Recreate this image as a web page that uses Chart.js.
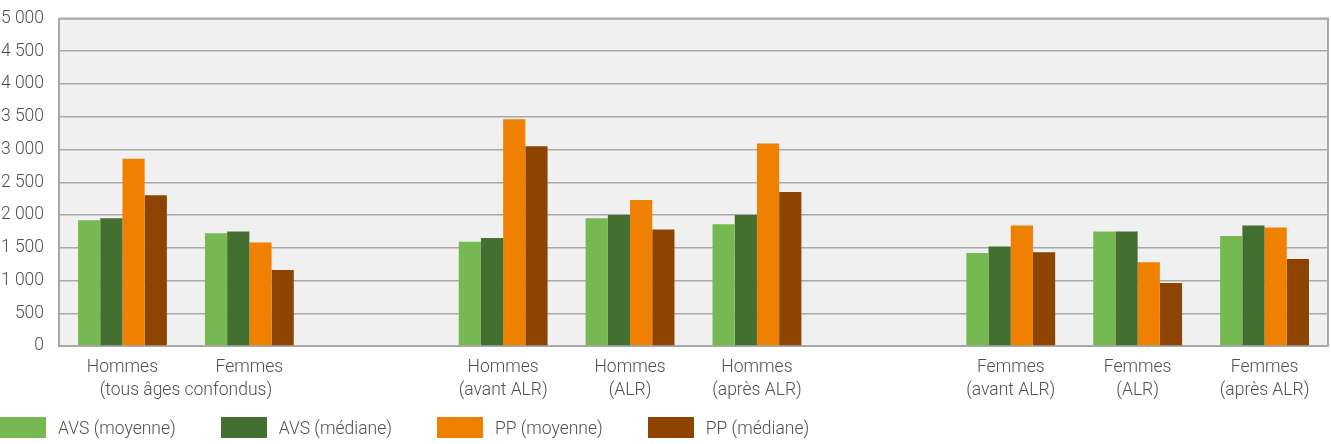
<!DOCTYPE html>
<html>
<head>
<meta charset="utf-8">
<script src="https://cdn.jsdelivr.net/npm/chart.js@4"></script>
<style>
  html, body { margin: 0; padding: 0; background: #fff; overflow: hidden; }
  #wrap { position: relative; width: 1331px; height: 444px; overflow: hidden; }
  #plotBox { position: absolute; left: 0; top: -7px; width: 1331px; height: 451px; }
  #legend { position: absolute; left: 0; top: 417px; display: flex; font-family: Roboto, sans-serif; font-weight: 300; font-size: 17.5px; color: #505050; }
  .item { display: flex; align-items: center; margin-right: 45px; }
  .box { width: 46px; height: 21px; margin-right: 12px; }
</style>
</head>
<body>
<div id="wrap">
  <div id="plotBox"><canvas id="mainPlot"></canvas></div>
  <div id="legend"></div>
</div>
<script>
// chart data
const categories = [
  "Hommes", "Femmes", "",
  ["Hommes", "(avant ALR)"], ["Hommes", "(ALR)"], ["Hommes", "(après ALR)"], "",
  ["Femmes", "(avant ALR)"], ["Femmes", "(ALR)"], ["Femmes", "(après ALR)"]
];
// second-line label shared by the first two categories
const groupLabel = "(tous âges confondus)";
const groupSpan = [0, 1];

const seriesNames = ["AVS (moyenne)", "AVS (médiane)", "PP (moyenne)", "PP (médiane)"];
const avsMoyenne = [1920, 1720, null, 1590, 1950, 1860, null, 1420, 1750, 1680];
const avsMediane = [1950, 1750, null, 1650, 2000, 2000, null, 1520, 1750, 1840];
const ppMoyenne  = [2860, 1580, null, 3460, 2230, 3090, null, 1840, 1280, 1810];
const ppMediane  = [2300, 1160, null, 3050, 1780, 2350, null, 1430, 960, 1330];
const seriesColors = ["#76b852", "#437030", "#f08000", "#8c4400"];

const yMin = 0;
const yMax = 5000;
const yStep = 500;

const textColor = "#505050";
const gridColor = "#a8a8a8";
const fontSpec = { family: "Roboto, sans-serif", size: 17.5, weight: 300 };
const lineH = 23;
const xPad = 10;

// format numbers with a space as thousands separator
function formatThousands(v) {
  return String(v).replace(/\B(?=(\d{3})+(?!\d))/g, " ");
}

// plot background + frame + shared group label
const plotDecor = {
  id: "plotDecor",
  beforeDraw(chart) {
    const { ctx, chartArea } = chart;
    ctx.save();
    ctx.fillStyle = "#f0f0f0";
    ctx.fillRect(chartArea.left, chartArea.top, chartArea.right - chartArea.left, chartArea.bottom - chartArea.top);
    ctx.restore();
  },
  afterDraw(chart) {
    const { ctx, chartArea } = chart;
    const xScale = chart.scales.x;
    ctx.save();
    ctx.strokeStyle = gridColor;
    ctx.lineWidth = 2;
    ctx.beginPath();
    ctx.moveTo(chartArea.left, chartArea.top);
    ctx.lineTo(chartArea.right, chartArea.top);
    ctx.lineTo(chartArea.right, chartArea.bottom);
    ctx.stroke();

    // group label under the first two categories
    const gx = (xScale.getPixelForValue(groupSpan[0]) + xScale.getPixelForValue(groupSpan[1])) / 2;
    ctx.fillStyle = textColor;
    ctx.font = fontSpec.weight + " " + fontSpec.size + "px " + fontSpec.family;
    ctx.textAlign = "center";
    ctx.textBaseline = "middle";
    ctx.fillText(groupLabel, gx, chartArea.bottom + xPad + lineH * 1.5);
    ctx.restore();
  }
};

const datasets = seriesNames.map((name, i) => ({
  label: name,
  data: [avsMoyenne, avsMediane, ppMoyenne, ppMediane][i],
  backgroundColor: seriesColors[i],
  borderWidth: 0,
  barPercentage: 1,
  categoryPercentage: 0.7,
}));

const mainChart = new Chart(document.getElementById("mainPlot"), {
  type: "bar",
  data: { labels: categories, datasets: datasets },
  options: {
    responsive: true,
    maintainAspectRatio: false,
    animation: false,
    layout: { padding: { top: 0, right: 3, bottom: 32, left: 0 } },
    scales: {
      x: {
        grid: { display: false, drawTicks: false },
        border: { color: gridColor, width: 2 },
        ticks: { color: textColor, font: { ...fontSpec, lineHeight: lineH / fontSpec.size }, padding: xPad, maxRotation: 0, autoSkip: false },
      },
      y: {
        min: yMin,
        max: yMax,
        afterFit: (scale) => { scale.width = 59; },
        grid: { color: gridColor, lineWidth: 1.5, drawTicks: false },
        border: { color: gridColor, width: 2 },
        ticks: {
          stepSize: yStep,
          color: textColor,
          font: fontSpec,
          padding: 15,
          callback: (val) => formatThousands(val),
        },
      },
    },
    plugins: {
      legend: { display: false },
      tooltip: { enabled: false },
    },
  },
  plugins: [plotDecor],
});

// html legend built from the datasets
const legendDOM = document.getElementById("legend");
mainChart.data.datasets.forEach((ds) => {
  const item = document.createElement("div");
  item.className = "item";
  const box = document.createElement("div");
  box.className = "box";
  box.style.background = ds.backgroundColor;
  const label = document.createElement("span");
  label.innerText = ds.label;
  item.appendChild(box);
  item.appendChild(label);
  legendDOM.appendChild(item);
});
</script>
</body>
</html>
